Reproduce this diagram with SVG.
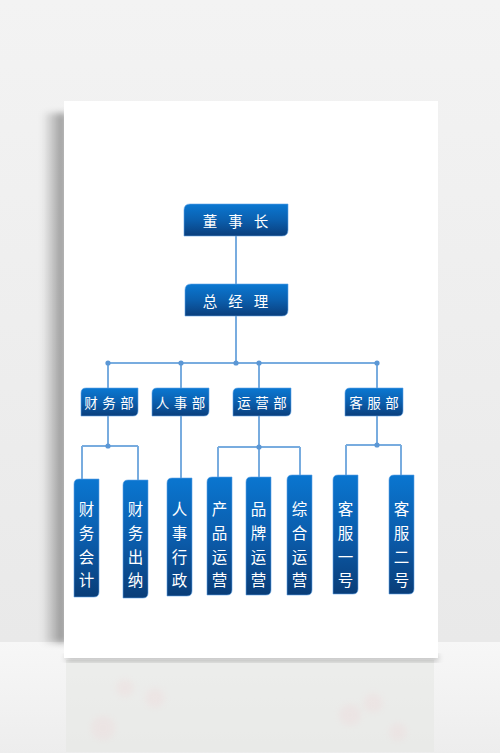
<svg xmlns="http://www.w3.org/2000/svg" width="500" height="753" viewBox="0 0 500 753">
<defs>
<linearGradient id="bg" x1="0" y1="0" x2="0" y2="1">
<stop offset="0" stop-color="#f3f3f3"/><stop offset="1" stop-color="#e9e9e9"/>
</linearGradient>
<linearGradient id="floor" x1="0" y1="0" x2="0" y2="1">
<stop offset="0" stop-color="#f7f7f7"/><stop offset="1" stop-color="#ededed"/>
</linearGradient>
<linearGradient id="lshadow" x1="1" y1="0" x2="0" y2="0">
<stop offset="0" stop-color="#000" stop-opacity="0.4"/><stop offset="1" stop-color="#000" stop-opacity="0"/>
</linearGradient>
<linearGradient id="box" x1="0" y1="0" x2="0" y2="1">
<stop offset="0" stop-color="#0a78d2"/><stop offset="0.5" stop-color="#0b5fae"/><stop offset="1" stop-color="#0a3e7c"/>
</linearGradient>
<linearGradient id="vbox" x1="0" y1="0" x2="0" y2="1">
<stop offset="0" stop-color="#0a76d0"/><stop offset="0.55" stop-color="#0b5aa8"/><stop offset="1" stop-color="#093d78"/>
</linearGradient>
<filter id="blur" x="-20%" y="-20%" width="140%" height="140%"><feGaussianBlur stdDeviation="3"/></filter>
</defs>
<style>
.hb{fill:url(#box);stroke:#5fa3e6;stroke-width:0.6}
.vb{fill:url(#vbox);stroke:#5fa3e6;stroke-width:0.6}
.t{fill:#fff;font-family:"Noto Sans CJK SC","Noto Sans",sans-serif;font-size:14.5px;text-anchor:middle;dominant-baseline:central}
.td{font-size:13.5px}
.tv{font-size:15.5px}
.ln{stroke:#78acdf;stroke-width:2;fill:none}
.dot{fill:#5b97d5}
</style>
<!-- background -->
<rect x="0" y="0" width="500" height="642" fill="url(#bg)"/>
<rect x="0" y="642" width="500" height="111" fill="url(#floor)"/>
<rect x="66" y="660" width="368" height="92" fill="#e6e8e4" opacity="0.6"/>
<g fill="#f2c8cc" opacity="0.18" filter="url(#blur)">
<circle cx="125" cy="688" r="9"/><circle cx="103" cy="728" r="12"/><circle cx="155" cy="698" r="10"/><circle cx="350" cy="715" r="11"/><circle cx="373" cy="703" r="10"/><circle cx="398" cy="732" r="9"/>
</g>
<!-- paper shadow -->
<rect x="42" y="113" width="24" height="530" fill="url(#lshadow)" filter="url(#blur)"/>
<rect x="66" y="655" width="372" height="6" fill="#000" opacity="0.25" filter="url(#blur)"/>
<rect x="64" y="101" width="374" height="557" fill="#ffffff"/>
<!-- connectors -->
<g id="connectors">
<path class="ln" d="M236 236V284M236 316V363M108 363H377M108 363V388M181 363V388M259 363V388M377 363V388"/>
<path class="ln" d="M108 416V446M82 446H138M82 446V479M138 446V480M181 416V478"/>
<path class="ln" d="M259 416V447M218 447H300M218 447V477M259 447V477M300 447V475"/>
<path class="ln" d="M377 416V445M346 445H401M346 445V475M401 445V475"/>
<circle class="dot" cx="108" cy="363" r="2.6"/><circle class="dot" cx="181" cy="363" r="2.6"/><circle class="dot" cx="236" cy="363" r="2.6"/><circle class="dot" cx="259" cy="363" r="2.6"/><circle class="dot" cx="377" cy="363" r="2.6"/>
<circle class="dot" cx="108" cy="446" r="2.6"/><circle class="dot" cx="259" cy="447" r="2.6"/><circle class="dot" cx="377" cy="445" r="2.6"/>
</g>
<!-- top nodes -->
<g id="n-dongshizhang">
<path class="hb" d="M190 204H288V230Q288 236 282 236H184V210Q184 204 190 204Z"/>
<text class="t" x="236" y="220" letter-spacing="11" dx="5">董事长</text>
</g>
<g id="n-zongjingli">
<path class="hb" d="M191 284H288V310Q288 316 282 316H185V290Q185 284 191 284Z"/>
<text class="t" x="236" y="300" letter-spacing="11" dx="5">总经理</text>
</g>
<!-- departments -->
<g id="n-caiwubu">
<path class="hb" d="M86 388H138V411Q138 416 133 416H81V393Q81 388 86 388Z"/>
<text class="t td" x="109" y="402" letter-spacing="4.5" dx="2.2">财务部</text>
</g>
<g id="n-renshibu">
<path class="hb" d="M157 388H209V411Q209 416 204 416H152V393Q152 388 157 388Z"/>
<text class="t td" x="180.5" y="402" letter-spacing="4.5" dx="2.2">人事部</text>
</g>
<g id="n-yunyingbu">
<path class="hb" d="M238 388H291V411Q291 416 286 416H233V393Q233 388 238 388Z"/>
<text class="t td" x="262" y="402" letter-spacing="4.5" dx="2.2">运营部</text>
</g>
<g id="n-kefubu">
<path class="hb" d="M350 388H403V411Q403 416 398 416H345V393Q345 388 350 388Z"/>
<text class="t td" x="374" y="402" letter-spacing="4.5" dx="2.2">客服部</text>
</g>
<!-- leaf nodes -->
<g id="n-caiwukuaiji">
<path class="vb" d="M79 479H99V592Q99 597 94 597H74V484Q74 479 79 479Z"/>
<text class="t tv"><tspan x="86.5" y="508">财</tspan><tspan x="86.5" y="532">务</tspan><tspan x="86.5" y="556">会</tspan><tspan x="86.5" y="579">计</tspan></text>
</g>
<g id="n-caiwuchuna">
<path class="vb" d="M128 480H148V593Q148 598 143 598H123V485Q123 480 128 480Z"/>
<text class="t tv"><tspan x="135.5" y="508">财</tspan><tspan x="135.5" y="532">务</tspan><tspan x="135.5" y="556">出</tspan><tspan x="135.5" y="579">纳</tspan></text>
</g>
<g id="n-renshixingzheng">
<path class="vb" d="M172 478H192V591Q192 596 187 596H167V483Q167 478 172 478Z"/>
<text class="t tv"><tspan x="179.5" y="508">人</tspan><tspan x="179.5" y="532">事</tspan><tspan x="179.5" y="556">行</tspan><tspan x="179.5" y="579">政</tspan></text>
</g>
<g id="n-chanpinyunying">
<path class="vb" d="M212 477H232V590Q232 595 227 595H207V482Q207 477 212 477Z"/>
<text class="t tv"><tspan x="219.5" y="508">产</tspan><tspan x="219.5" y="532">品</tspan><tspan x="219.5" y="556">运</tspan><tspan x="219.5" y="579">营</tspan></text>
</g>
<g id="n-pinpaiyunying">
<path class="vb" d="M251 477H271V590Q271 595 266 595H246V482Q246 477 251 477Z"/>
<text class="t tv"><tspan x="258.5" y="508">品</tspan><tspan x="258.5" y="532">牌</tspan><tspan x="258.5" y="556">运</tspan><tspan x="258.5" y="579">营</tspan></text>
</g>
<g id="n-zongheyunying">
<path class="vb" d="M292 475H312V590Q312 595 307 595H287V480Q287 475 292 475Z"/>
<text class="t tv"><tspan x="299.5" y="508">综</tspan><tspan x="299.5" y="532">合</tspan><tspan x="299.5" y="556">运</tspan><tspan x="299.5" y="579">营</tspan></text>
</g>
<g id="n-kefuyihao">
<path class="vb" d="M338 475H358V589Q358 594 353 594H333V480Q333 475 338 475Z"/>
<text class="t tv"><tspan x="345.5" y="508">客</tspan><tspan x="345.5" y="532">服</tspan><tspan x="345.5" y="556">一</tspan><tspan x="345.5" y="579">号</tspan></text>
</g>
<g id="n-kefuerhao">
<path class="vb" d="M394 475H414V589Q414 594 409 594H389V480Q389 475 394 475Z"/>
<text class="t tv"><tspan x="401.5" y="508">客</tspan><tspan x="401.5" y="532">服</tspan><tspan x="401.5" y="556">二</tspan><tspan x="401.5" y="579">号</tspan></text>
</g>
</svg>
